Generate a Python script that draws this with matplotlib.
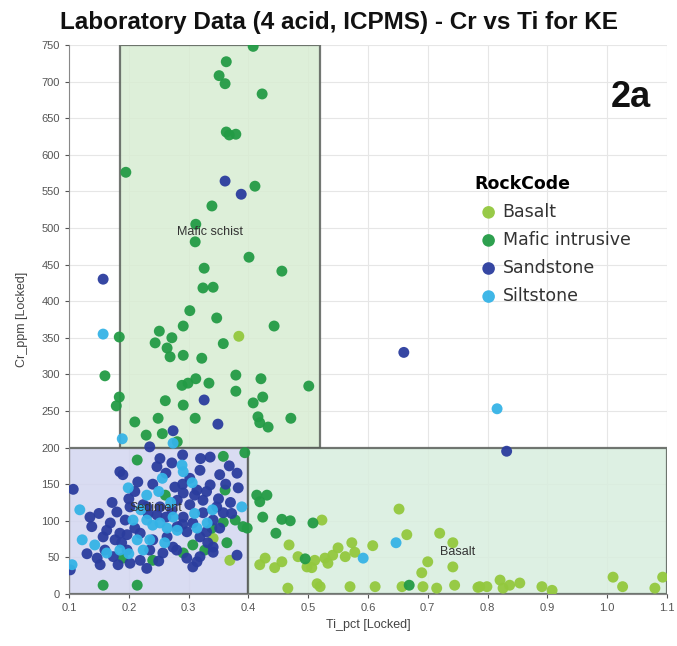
import matplotlib
matplotlib.use("Agg")
import matplotlib.pyplot as plt
from matplotlib.patches import Rectangle

plt.rcParams['font.family'] = ['Liberation Sans', 'DejaVu Sans']

# ---------------- data ----------------
basalt_ti = [0.384, 0.341, 0.369, 0.523, 0.652, 0.468, 0.665, 0.720, 0.742, 0.608, 0.573, 0.578,
             0.550, 0.541, 0.528, 0.511, 0.498, 0.483, 0.456, 0.428, 0.419, 0.444, 0.506, 0.533, 0.562,
             0.466, 0.520, 0.515, 0.570, 0.612, 0.657, 0.700, 0.690, 0.742, 0.692, 0.715, 0.745,
             0.787, 0.799, 0.821, 0.826, 0.837, 0.854, 0.784, 0.891, 0.908, 1.010, 1.026, 1.080, 1.093]
basalt_cr = [352, 76, 46, 101, 116, 67, 81, 83, 70, 66, 70, 57,
             63, 53, 49, 46, 37, 51, 44, 49, 40, 36, 36, 42, 51,
             8, 10, 14, 10, 10, 10, 44, 29, 37, 10, 8, 12,
             10, 10, 19, 8, 12, 15, 9, 10, 5, 23, 10, 8, 23]

mafic_ti = [0.408, 0.363, 0.351, 0.361, 0.423, 0.363, 0.368, 0.379, 0.195, 0.411, 0.339, 0.312,
            0.311, 0.401, 0.326, 0.456, 0.324, 0.341, 0.302, 0.347, 0.291, 0.443, 0.251, 0.184,
            0.272, 0.244, 0.358, 0.264, 0.269, 0.291, 0.322, 0.160, 0.379, 0.421, 0.501, 0.289,
            0.299, 0.312, 0.334, 0.184, 0.179, 0.261, 0.291, 0.379, 0.424, 0.408, 0.311, 0.249,
            0.210, 0.416, 0.419, 0.433, 0.471, 0.229, 0.256, 0.281,
            0.214, 0.358, 0.394, 0.261, 0.361, 0.378, 0.391, 0.358, 0.339, 0.364, 0.307, 0.291,
            0.327, 0.240, 0.190, 0.157, 0.214,
            0.414, 0.431, 0.419, 0.398, 0.424, 0.456, 0.470, 0.508, 0.446, 0.495, 0.669]
mafic_cr = [748, 727, 708, 697, 683, 631, 627, 628, 576, 557, 530, 505,
            481, 460, 445, 441, 418, 419, 387, 377, 366, 366, 359, 351,
            350, 343, 342, 336, 324, 326, 322, 298, 299, 294, 284, 285,
            288, 294, 288, 269, 257, 264, 258, 277, 269, 261, 240, 240,
            235, 242, 234, 228, 240, 217, 219, 208,
            183, 188, 193, 135, 142, 101, 92, 98, 90, 70, 67, 56,
            60, 46, 49, 12, 12,
            135, 135, 126, 90, 105, 102, 100, 97, 83, 48, 12]

sand_ti = [0.361, 0.388, 0.157, 0.326, 0.349, 0.274, 0.235, 0.660, 0.832,
           0.107, 0.185, 0.190, 0.215, 0.247, 0.272, 0.336, 0.381, 0.383, 0.352, 0.319, 0.302,
           0.277, 0.135, 0.138, 0.169, 0.180, 0.202, 0.224, 0.252, 0.281, 0.302, 0.324, 0.347,
           0.157, 0.177, 0.197, 0.102, 0.381,
           0.219, 0.240, 0.264, 0.281, 0.297, 0.319, 0.341, 0.152, 0.174, 0.202, 0.235, 0.257,
           0.274, 0.314, 0.341,
           0.324, 0.307, 0.341, 0.358, 0.291, 0.314, 0.336, 0.185, 0.163, 0.230, 0.194, 0.247,
           0.291, 0.147, 0.197, 0.219, 0.297, 0.319, 0.307,
           0.210, 0.240, 0.262, 0.290, 0.310, 0.330, 0.350, 0.370, 0.362, 0.368, 0.320, 0.290,
           0.252, 0.200, 0.172, 0.150, 0.160, 0.188, 0.210, 0.232, 0.262, 0.272, 0.290, 0.330,
           0.352, 0.372, 0.332, 0.280, 0.250, 0.230, 0.182, 0.130]
sand_cr = [564, 546, 430, 265, 232, 223, 201, 330, 195,
           143, 167, 163, 153, 174, 179, 187, 165, 145, 163, 169, 158,
           146, 105, 92, 97, 112, 119, 122, 119, 128, 122, 128, 119,
           78, 74, 81, 33, 53,
           83, 74, 78, 92, 85, 78, 64, 40, 51, 42, 60, 56,
           64, 44, 57,
           111, 97, 101, 111, 138, 142, 149, 83, 87, 119, 101, 108,
           105, 49, 60, 46, 49, 51, 37,
           140, 150, 165, 150, 135, 140, 130, 125, 150, 175, 185, 190,
           185, 130, 125, 110, 60, 70, 90, 110, 105, 115, 95, 85,
           90, 110, 70, 60, 45, 35, 40, 55]

silt_ti = [0.157, 0.189, 0.274, 0.816, 0.647, 0.592,
           0.118, 0.122, 0.105, 0.143, 0.199, 0.230, 0.256, 0.289, 0.389,
           0.207, 0.230, 0.252, 0.274, 0.314, 0.281, 0.214, 0.185, 0.163, 0.235,
           0.331, 0.306, 0.291, 0.240, 0.264, 0.224,
           0.270, 0.250, 0.220, 0.310, 0.340, 0.200, 0.260]
silt_cr = [355, 212, 206, 253, 70, 49,
           115, 74, 40, 67, 145, 135, 158, 176, 119,
           101, 101, 97, 105, 90, 87, 74, 60, 56, 74,
           97, 152, 167, 94, 90, 60,
           125, 140, 115, 110, 115, 55, 70]

series_names = ["Basalt", "Mafic intrusive", "Sandstone", "Siltstone"]
series_colors = ["#93c83e", "#239b45", "#2b3d9e", "#35b3e6"]

region_names = ["Mafic schist", "Sediment", "Basalt"]
region_x = [(0.185, 0.52), (0.1, 0.40), (0.40, 1.1)]
region_y = [(200, 750), (0, 200), (0, 200)]
region_fill = ["#d8edd3", "#d3d6f0", "#d8eede"]
region_label_pos = [(0.335, 494), (0.245, 117), (0.75, 57)]

x_ticks = [0.1, 0.2, 0.3, 0.4, 0.5, 0.6, 0.7, 0.8, 0.9, 1.0, 1.1]
y_ticks = list(range(0, 751, 50))

# ---------------- figure ----------------
fig = plt.figure(figsize=(6.77, 6.46), dpi=100)
ax = fig.add_axes([0.102, 0.0805, 0.883, 0.85])
ax.set_xlim(0.1, 1.1)
ax.set_ylim(0, 750)

ax.set_axisbelow(True)
ax.grid(True, color="#e6e6e6", linewidth=0.8)

for (x0, x1), (y0, y1), fc in zip(region_x, region_y, region_fill):
    ax.add_patch(Rectangle((x0, y0), x1 - x0, y1 - y0, facecolor=fc, edgecolor="#5a5f5a",
                           linewidth=1.6, alpha=0.85, zorder=1))

data = [(basalt_ti, basalt_cr), (mafic_ti, mafic_cr), (sand_ti, sand_cr), (silt_ti, silt_cr)]
for (xs, ys), name, col in zip(data, series_names, series_colors):
    ax.scatter(xs, ys, s=62, color=col, edgecolors="none", label=name, zorder=3, alpha=0.95)

for name, (lx, ly) in zip(region_names, region_label_pos):
    ax.text(lx, ly, name, fontsize=9, color="#333333", ha="center", va="center", zorder=4)

ax.set_xticks(x_ticks)
ax.set_xticklabels([f"{v:.1f}" for v in x_ticks])
ax.set_yticks(y_ticks)
ax.tick_params(labelsize=8, colors="#555555", length=3)
for sp in ["top", "right"]:
    ax.spines[sp].set_visible(False)
for sp in ["left", "bottom"]:
    ax.spines[sp].set_color("#888888")

ax.set_xlabel("Ti_pct [Locked]", fontsize=9, color="#444444", labelpad=4)
ax.set_ylabel("Cr_ppm [Locked]", fontsize=9, color="#444444", labelpad=10)

fig.text(0.5, 0.965, "Laboratory Data (4 acid, ICPMS) - Cr vs Ti for KE", ha="center", va="center",
         fontsize=17.5, fontweight="bold", color="#111111")
ax.text(0.973, 0.905, "2a", transform=ax.transAxes, ha="right", va="center",
        fontsize=26, fontweight="bold", color="#111111")

leg = ax.legend(loc="upper left", bbox_to_anchor=(0.667, 0.776), frameon=False,
                title="RockCode", handletextpad=0.0, labelspacing=0.58,
                handlelength=1.6, markerscale=1.15, borderaxespad=0,
                prop={"family": "DejaVu Sans", "size": 12.5})
leg.get_title().set_fontweight("bold")
leg.get_title().set_fontsize(12.5)
leg.get_title().set_family("DejaVu Sans")
leg._legend_box.align = "left"
for t in leg.get_texts():
    t.set_color("#333333")

fig.savefig("out.png", dpi=100)
